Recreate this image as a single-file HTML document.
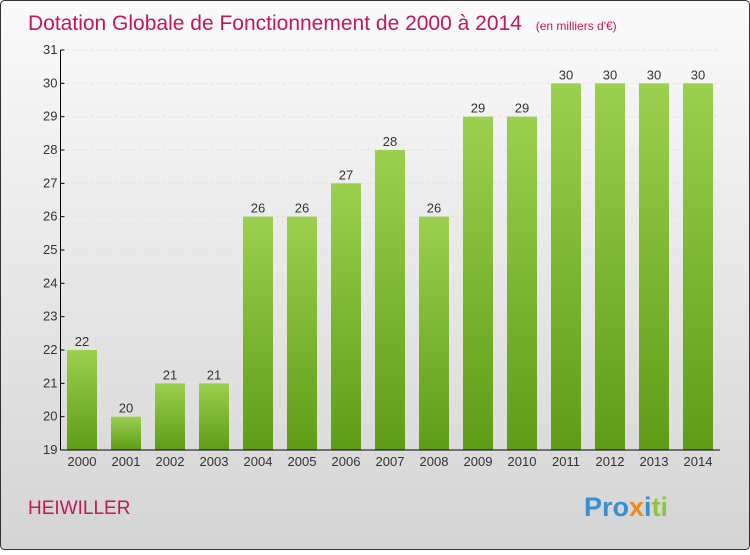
<!DOCTYPE html>
<html><head><meta charset="utf-8"><style>
body{margin:0;}
#c{width:750px;height:550px;position:relative;font-family:"Liberation Sans",sans-serif;}
</style></head><body>
<div id="c">
<svg width="750" height="550" xmlns="http://www.w3.org/2000/svg" id="svg" font-family="Liberation Sans, sans-serif">
<defs>
<linearGradient id="bg" x1="0" y1="0" x2="0" y2="1"><stop offset="0" stop-color="#fafafa"/><stop offset="1" stop-color="#d4d4d4"/></linearGradient>
<linearGradient id="bar" x1="0" y1="0" x2="0" y2="1"><stop offset="0" stop-color="#9bd04e"/><stop offset="1" stop-color="#5f9c16"/></linearGradient>
</defs>
<rect x="0.5" y="0.5" width="749" height="549" rx="4" fill="url(#bg)" stroke="#333"/>
<text x="28" y="30" font-size="21" fill="#c0185a">Dotation Globale de Fonctionnement de 2000 à 2014 <tspan font-size="12" dx="8">(en milliers d'€)</tspan></text>
<g id="grid"></g>
<g id="bars"></g>
<g id="axes"></g>
<text x="28" y="514" font-size="19" fill="#c0185a">HEIWILLER</text>
<text x="584" y="516" font-size="27" font-weight="bold"><tspan fill="#3a8fd0">Pro</tspan><tspan fill="#f08a1c">x</tspan><tspan fill="#3a8fd0">i</tspan><tspan fill="#8cc63f">ti</tspan></text>
</svg>
</div>
<script>
const years=["2000","2001","2002","2003","2004","2005","2006","2007","2008","2009","2010","2011","2012","2013","2014"];
const values=[22,20,21,21,26,26,27,28,26,29,29,30,30,30,30];
const yTicks=[19,20,21,22,23,24,25,26,27,28,29,30,31];
const NS="http://www.w3.org/2000/svg";
const x0=60.5,yMin=19,yMax=31,yTop=50,yBot=450;
function yS(v){return yBot-(v-yMin)/(yMax-yMin)*(yBot-yTop);}
function xS(i){return 82+i*44;}
function mk(t,a,p){const e=document.createElementNS(NS,t);for(const k in a)e.setAttribute(k,a[k]);p.appendChild(e);return e;}
const grid=document.getElementById('grid'),bars=document.getElementById('bars'),axes=document.getElementById('axes');
yTicks.forEach(v=>{
  const y=yS(v);
  const g=mk('line',{x1:x0,x2:720,y1:y,y2:y,stroke:'#e2e2e2','stroke-dasharray':'3,3'},grid);
  
  
  mk('line',{x1:x0,x2:x0+4,y1:y,y2:y,stroke:'#000'},axes);
  const t=mk('text',{x:x0-3,y:y+4,'text-anchor':'end','font-size':'13',fill:'#333'},axes);
  t.textContent=v;
  
  
});
values.forEach((v,i)=>{
  const cx=xS(i),y=yS(v);
  const r=mk('rect',{x:cx-15,y:y,width:30,height:yBot-y,fill:'url(#bar)'},bars);
  
  
  const t=mk('text',{x:cx,y:y-4,'text-anchor':'middle','font-size':'13',fill:'#333'},bars);
  t.textContent=v;
  
  
  const l=mk('text',{x:cx,y:466,'text-anchor':'middle','font-size':'13',fill:'#333'},axes);
  l.textContent=years[i];
  
  
});
const ya=mk('line',{x1:x0,x2:x0,y1:yTop,y2:yBot,stroke:'#000'},axes);


const xa=mk('line',{x1:x0,x2:720,y1:yBot,y2:yBot,stroke:'#000'},axes);


</script>
</body></html>
